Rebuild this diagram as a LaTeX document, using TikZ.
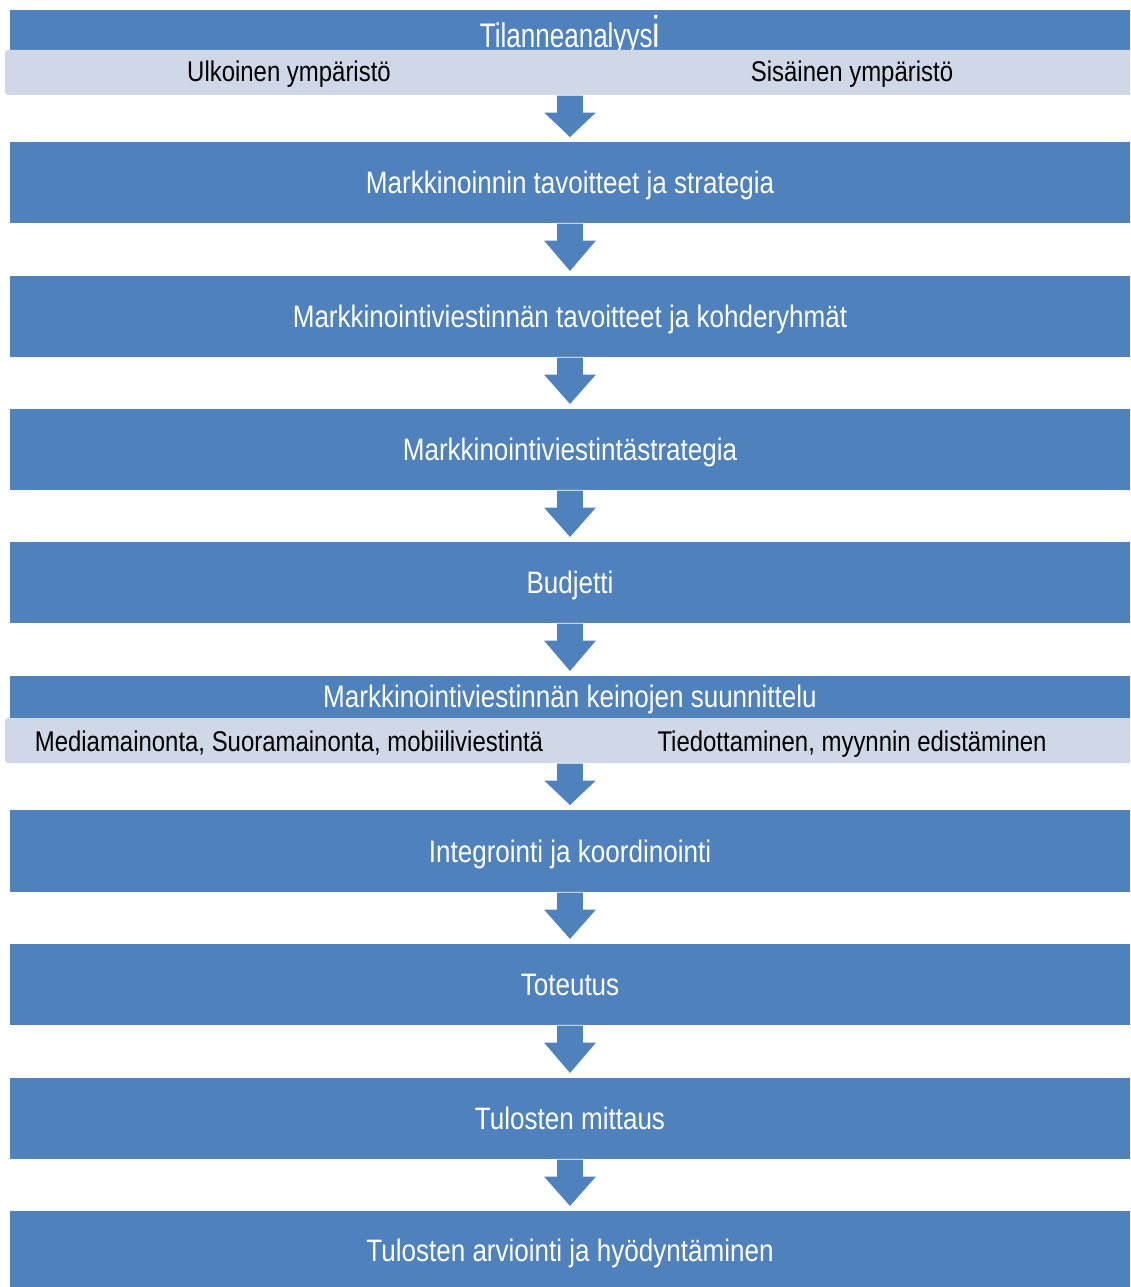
\documentclass[tikz,border=0pt]{standalone}
\usepackage{fontspec}
\setmainfont[FakeStretch=0.84]{Liberation Sans}
\usetikzlibrary{calc}
\definecolor{flowblue}{HTML}{4F81BD}
\definecolor{flowlight}{HTML}{D0D8E8}
\tikzset{
  whitefont/.style={text=white, font=\fontsize{31}{34}\selectfont},
  bluebox/.style={fill=flowblue, draw=none, minimum width=1120pt, inner sep=0pt, whitefont, text height=22.3pt, text depth=0pt},
  lightband/.style={fill=flowlight, draw=none, rounded corners=3pt, minimum width=1130pt, minimum height=45pt, inner sep=0pt},
  lighttext/.style={text=black, inner sep=0pt, font=\fontsize{28.5}{32}\selectfont, text height=20.5pt, text depth=0pt},
  arrowfill/.style={fill=flowblue, draw=white, line width=0.8pt, line join=miter}
}
\newcommand\flowarr[2]{%
  \filldraw[arrowfill] ($(#1.south)+(-13.5,0)$) -- ($(#1.south)+(13.5,0)$) -- ($(#1.south)+(13.5,17)$) -- ($(#1.south)+(27,17)$) -- ($(#2.north)+(0,-4)$) -- ($(#1.south)+(-27,17)$) -- ($(#1.south)+(-13.5,17)$) -- cycle;}
\begin{document}
\begin{tikzpicture}[x=1pt,y=-1pt]
\useasboundingbox (0,0) rectangle (1130,1287);
\clip (0,0) rectangle (1130,1287);
% box 1
\node[bluebox, minimum height=50pt] (b1) at (570,35) {};
\node[whitefont, inner sep=0pt, anchor=base] (t1) at (570,48) {\scalebox{1}[1.1]{Tilanneanalyys\scalebox{1.3}[1.3]{i}}};
\node[lightband] (l1) at (570,72.5) {};
\node[lighttext] (l1a) at (289,71) {Ulkoinen ympäristö};
\node[lighttext] (l1b) at (852,71) {Sisäinen ympäristö};
% boxes
\node[bluebox, minimum height=81pt] (b2) at (570,182.5) {Markkinoinnin tavoitteet ja strategia};
\node[bluebox, minimum height=81pt] (b3) at (570,316.5) {Markkinointiviestinnän tavoitteet ja kohderyhmät};
\node[bluebox, minimum height=81pt] (b4) at (570,449.5) {Markkinointiviestintästrategia};
\node[bluebox, minimum height=81pt] (b5) at (570,582.5) {Budjetti};
% box 6
\node[bluebox, minimum height=50pt] (b6) at (570,701) {};
\node[whitefont, inner sep=0pt, anchor=base] (t6) at (570,707) {Markkinointiviestinnän keinojen suunnittelu};
\node[lightband] (l6) at (570,740.5) {};
\node[lighttext] (l6a) at (289,741.5) {Mediamainonta, Suoramainonta, mobiiliviestintä};
\node[lighttext] (l6b) at (852,741.5) {Tiedottaminen, myynnin edistäminen};
\node[bluebox, minimum height=82pt] (b7) at (570,851) {Integrointi ja koordinointi};
\node[bluebox, minimum height=81pt] (b8) at (570,984.5) {Toteutus};
\node[bluebox, minimum height=81pt] (b9) at (570,1118.5) {Tulosten mittaus};
\node[bluebox, minimum height=78pt] (b10) at (570,1250) {Tulosten arviointi ja hyödyntäminen};
% arrows
\flowarr{l1}{b2}
\flowarr{b2}{b3}
\flowarr{b3}{b4}
\flowarr{b4}{b5}
\flowarr{b5}{b6}
\flowarr{l6}{b7}
\flowarr{b7}{b8}
\flowarr{b8}{b9}
\flowarr{b9}{b10}
\end{tikzpicture}
\end{document}
